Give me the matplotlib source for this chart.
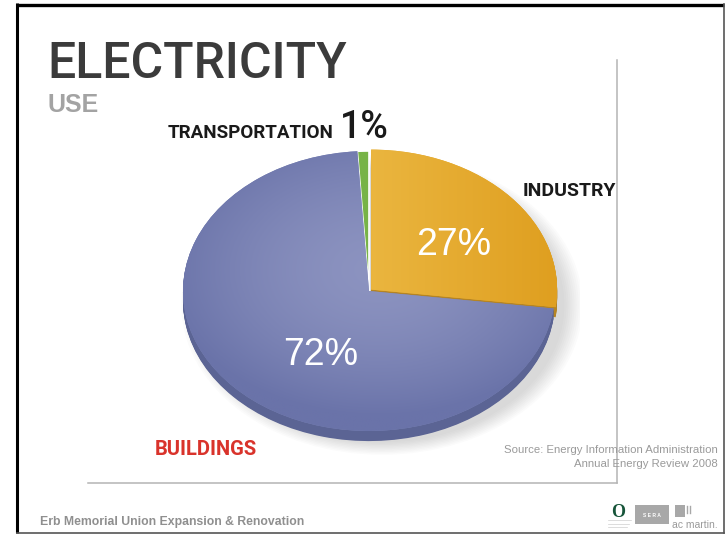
import numpy as np
import matplotlib.pyplot as plt
from matplotlib.patches import Ellipse, Rectangle
from matplotlib.colors import to_rgb

# electricity use by sector, percent
sectors = ['INDUSTRY', 'TRANSPORTATION', 'BUILDINGS']
shares = [27, 1, 72]
top_colors = ['#e6ad33', '#77b347', '#7d86b6']
side_colors = ['#b58424', '#4f8a2c', '#5b6494']
explode = [0.015, 0.0, 0.0]

W, H = 725, 535
NARROW = ['Roboto', 'Liberation Sans', 'DejaVu Sans']
SANS = ['Liberation Sans', 'DejaVu Sans']

fig = plt.figure(figsize=(W / 100, H / 100), dpi=100)
fig.patch.set_facecolor('white')

bg = fig.add_axes([0, 0, 1, 1])
bg.set_xlim(0, W)
bg.set_ylim(H, 0)
bg.axis('off')
bg.set_zorder(3)


def px_box(x0, y0, x1, y1):
    return [x0 / W, 1 - y1 / H, (x1 - x0) / W, (y1 - y0) / H]


# slide frame
bg.plot([17, 17], [3, 533], color='black', lw=2.2, solid_capstyle='butt')
bg.plot([16, 724], [4.5, 4.5], color='black', lw=2.4, solid_capstyle='butt')
bg.plot([724, 724], [4, 533], color='#555555', lw=1.2)
bg.plot([17, 724], [533, 533], color='#555555', lw=1.2)

# thin content frame
bg.plot([617, 617], [60, 483], color='#b4b4b4', lw=1.1)
bg.plot([88, 617], [483, 483], color='#b4b4b4', lw=1.1)

# titles
bg.text(47, 78, 'ELECTRICITY', fontsize=36, color='#3b3b3b', family=NARROW, weight='medium',
        va='baseline')
bg.text(48, 112, 'USE', fontsize=18, color='#a3a3a3', family=SANS, weight='bold', va='baseline')

# pie, drawn as a thick disc
cx, cy, rx, ry = 369, 291, 186, 140
box = (165, 135, 580, 460)
pie_ax = fig.add_axes(px_box(*box))
pie_ax.axis('off')
pie_ax.set_zorder(1)
start = 90 - 360 * shares[0] / sum(shares)

# soft drop shadow
for k in range(10):
    pie_ax.add_patch(Ellipse((0.07, -0.1), 1.96 + 0.022 * k, 1.96 + 0.02 * k,
                             color='#808080', alpha=0.03, lw=0, zorder=0))

depth = 0.072
for d in np.linspace(depth, 0.004, 14):
    pie_ax.pie(shares, colors=side_colors, startangle=start, explode=explode,
               center=(0, -d), wedgeprops=dict(linewidth=0))
wedges, _ = pie_ax.pie(shares, colors=top_colors, startangle=start, explode=explode,
                       wedgeprops=dict(linewidth=0))
wedges[1].set_edgecolor('white')
wedges[1].set_linewidth(1.2)

# shading on the top faces
gy, gx = np.mgrid[1.1:-1.2:300j, -1.1:1.1:300j]
ext = (-1.1, 1.1, -1.2, 1.1)

r = np.clip(np.hypot(gx - 0.05, (gy - 0.15) * 1.1) / 1.15, 0, 1) ** 1.6
c0, c1 = np.array(to_rgb('#8c93c0')), np.array(to_rgb('#6a73a9'))
blue_img = c0 + (c1 - c0) * r[..., None]
pie_ax.imshow(blue_img, extent=ext, aspect='auto', clip_path=wedges[2], zorder=2)

t = np.clip((gx + 0.05) / 1.05, 0, 1)
c0, c1 = np.array(to_rgb('#ebb741')), np.array(to_rgb('#df9f20'))
yellow_img = c0 + (c1 - c0) * t[..., None]
pie_ax.imshow(yellow_img, extent=ext, aspect='auto', clip_path=wedges[0], zorder=2)

pie_ax.set_aspect('auto')
pie_ax.set_xlim((box[0] - cx) / rx, (box[2] - cx) / rx)
pie_ax.set_ylim((cy - box[3]) / ry, (cy - box[1]) / ry)

# labels
pct = ['{}%'.format(v) for v in shares]
bg.text(454, 255, pct[0], fontsize=27, color='white', family=SANS, ha='center', va='baseline')
bg.text(321, 365, pct[2], fontsize=27, color='white', family=SANS, ha='center', va='baseline')
bg.text(168, 138, sectors[1], fontsize=13.5, color='#1a1a1a', family=NARROW, weight='bold', va='baseline')
bg.text(340, 138, pct[1], fontsize=27, color='#1a1a1a', family=NARROW, weight='medium', va='baseline')
bg.text(616, 196, sectors[0], fontsize=14, color='#1a1a1a', family=NARROW, weight='bold',
        ha='right', va='baseline')
bg.text(155, 455, sectors[2], fontsize=14.5, color='#d9332b', family=NARROW, weight='bold', va='baseline')

# source note
bg.text(718, 453, 'Source: Energy Information Administration', fontsize=8.2, color='#9a9a9a',
        family=SANS, ha='right', va='baseline')
bg.text(718, 467, 'Annual Energy Review 2008', fontsize=8.2, color='#9a9a9a',
        family=SANS, ha='right', va='baseline')

# footer
bg.text(40, 525, 'Erb Memorial Union Expansion & Renovation', fontsize=8.8, color='#8f8f8f',
        family=SANS, weight='bold', va='baseline')

# partner marks
bg.text(618.5, 517, 'O', fontsize=13, color='#17553a', family=['Liberation Serif', 'DejaVu Serif'],
        weight='bold', ha='center', va='baseline')
bg.plot([608, 631], [520, 520], color='#cfcfcf', lw=0.5)
bg.plot([608, 629], [523.5, 523.5], color='#cfcfcf', lw=0.5)
bg.plot([608, 627], [526.5, 526.5], color='#cfcfcf', lw=0.5)
bg.add_patch(Rectangle((635, 505), 34, 19, color='#a8a8a8', lw=0))
bg.text(652, 517, 'S E R A', fontsize=3.6, color='white', family=SANS, weight='bold',
        ha='center', va='baseline')
bg.add_patch(Rectangle((675, 505), 10, 12, color='#a8a8a8', lw=0))
bg.plot([687, 687], [506, 513], color='#a8a8a8', lw=1.0)
bg.plot([690, 690], [506, 513], color='#a8a8a8', lw=1.0)
bg.text(718, 528, 'ac martin.', fontsize=7.5, color='#9a9a9a', family=SANS, ha='right', va='baseline')

fig.savefig('out.png', dpi=100, facecolor='white')
